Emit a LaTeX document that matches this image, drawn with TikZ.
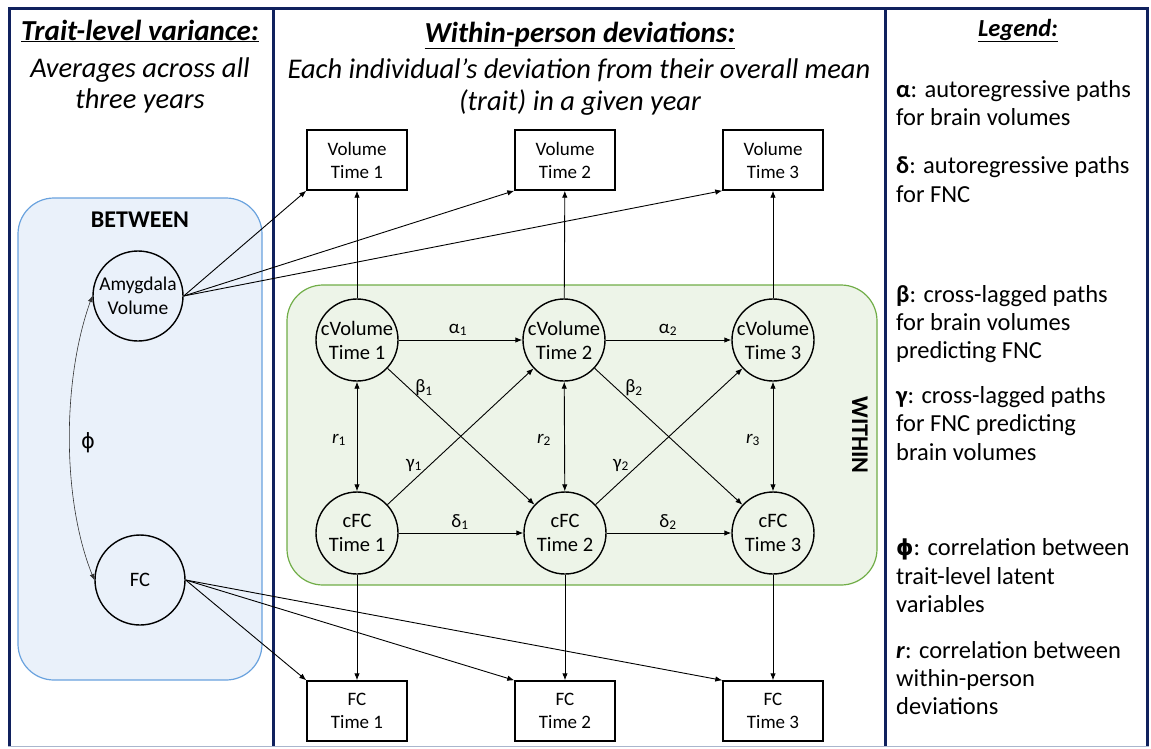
\documentclass[tikz,border=0pt]{standalone}
\usepackage{fontspec}
\setmainfont{Carlito}
\newfontfamily\phifont{DejaVu Sans}
\usetikzlibrary{arrows.meta}
\definecolor{navy}{RGB}{16,33,94}
\definecolor{bframe}{RGB}{170,182,205}
\definecolor{bluebd}{RGB}{105,162,222}
\definecolor{bluefill}{RGB}{234,241,250}
\definecolor{greenbd}{RGB}{112,173,71}
\definecolor{greenfill}{RGB}{237,244,232}
\begin{document}
\begin{tikzpicture}[x=1pt,y=-1pt,
  obs/.style={draw, line width=1.4pt, fill=white, minimum width=100pt, minimum height=60pt, align=center, inner sep=0pt, font=\fontsize{19}{23}\selectfont},
  lat/.style={circle, draw, line width=1.4pt, minimum size=82pt, align=center, inner sep=0pt, font=\fontsize{20.5}{24}\selectfont},
  conn/.style={-{Latex[length=7pt,width=5.5pt]}, line width=0.9pt},
  dbl/.style={{Latex[length=7pt,width=5.5pt]}-{Latex[length=7pt,width=5.5pt]}, line width=0.9pt},
  lbl/.style={font=\fontsize{19}{21}\selectfont, inner sep=1pt},
  ttl/.style={anchor=base, inner sep=0pt, font=\fontsize{29}{32}\selectfont\bfseries\itshape},
  sub/.style={anchor=base, inner sep=0pt, font=\fontsize{28.5}{32}\selectfont\itshape},
  leg/.style={anchor=base west, inner sep=0pt, font=\fontsize{24.5}{28}\selectfont}]
\useasboundingbox (0,0) rectangle (1151,748);
% frame
\draw[navy, line width=3pt] (9.5,746) -- (9.5,8.5) -- (1147.5,8.5) -- (1147.5,746);
\draw[navy, line width=3pt] (273.5,8.5) -- (273.5,746);
\draw[navy, line width=3pt] (885,8.5) -- (885,746);
\draw[bframe, line width=1.5pt] (8,746.5) -- (1149,746.5);
% panels
\draw[bluebd, fill=bluefill, line width=1.2pt, rounded corners=36pt] (18,198) rectangle (262,680);
\draw[greenbd, fill=greenfill, line width=1.2pt, rounded corners=36pt] (287,285) rectangle (877,585);
\node[font=\fontsize{24}{26}\selectfont\bfseries] (between) at (140,220) {BETWEEN};
\node[font=\fontsize{24}{26}\selectfont\bfseries, rotate=-90] (within) at (860,435) {WITHIN};
% titles
\node[ttl] (t1) at (140,40) {\underline{Trait-level variance:}};
\node[sub] (t1a) at (140,77) {Averages across all};
\node[sub] (t1b) at (140,108) {three years};
\node[ttl] (t2) at (580,42) {\underline{Within-person deviations:}};
\node[sub] (t2a) at (579,78) {Each individual’s deviation from their overall mean};
\node[sub] (t2b) at (580,110) {(trait) in a given year};
\node[anchor=base, inner sep=0pt, font=\fontsize{24.5}{28}\selectfont\bfseries\itshape] (t3) at (1018,36) {\underline{Legend:}};
% legend
\node[leg] (la1) at (896,97) {\textbf{α}: autoregressive paths};
\node[leg] (la2) at (896,125) {for brain volumes};
\node[leg] (ld1) at (896,173) {\textbf{δ}: autoregressive paths};
\node[leg] (ld2) at (896,202) {for FNC};
\node[leg] (lb1) at (896,302) {\textbf{β}: cross-lagged paths};
\node[leg] (lb2) at (896,330) {for brain volumes};
\node[leg] (lb3) at (896,358) {predicting FNC};
\node[leg] (lg1) at (896,403) {\textbf{γ}: cross-lagged paths};
\node[leg] (lg2) at (896,431) {for FNC predicting};
\node[leg] (lg3) at (896,460) {brain volumes};
\node[leg] (lp1) at (896,555) {{\phifont\bfseries\fontsize{22}{28}\selectfont ϕ}: correlation between};
\node[leg] (lp2) at (896,584) {trait-level latent};
\node[leg] (lp3) at (896,612) {variables};
\node[leg] (lr1) at (896,658) {\textbf{\textit{r}}: correlation between};
\node[leg] (lr2) at (896,686) {within-person};
\node[leg] (lr3) at (896,714) {deviations};
% observed boxes
\node[obs] (v1) at (357,160) {Volume\\Time 1};
\node[obs] (v2) at (565,160) {Volume\\Time 2};
\node[obs] (v3) at (773,160) {Volume\\Time 3};
\node[obs] (f1) at (357,711) {FC\\Time 1};
\node[obs] (f2) at (565,711) {FC\\Time 2};
\node[obs] (f3) at (773,711) {FC\\Time 3};
% latent circles
\node[lat] (cv1) at (357,340) {cVolume\\Time 1};
\node[lat] (cv2) at (564,340) {cVolume\\Time 2};
\node[lat] (cv3) at (773,340) {cVolume\\Time 3};
\node[lat] (cf1) at (357,533) {cFC\\Time 1};
\node[lat] (cf2) at (565,533) {cFC\\Time 2};
\node[lat] (cf3) at (773,533) {cFC\\Time 3};
\node[lat, minimum size=90pt, font=\fontsize{19.5}{24}\selectfont] (amy) at (138,296) {Amygdala\\Volume};
\node[lat, minimum size=90pt] (fc) at (140,580) {FC};
% between loadings
\draw[conn] (amy.east) -- (v1.south west);
\draw[conn] (amy.east) -- (v2.south west);
\draw[conn] (amy.east) -- (v3.south west);
\draw[conn] (fc.east) -- (f1.north west);
\draw[conn] (fc.east) -- (f2.north west);
\draw[conn] (fc.east) -- (f3.north west);
\draw[{Latex[length=6pt,width=5pt]}-{Latex[length=6pt,width=5pt]}, line width=0.6pt, black!80] (amy.180) .. controls (62,380) and (62,500) .. (fc.180);
\node[font=\phifont\fontsize{21}{24}\selectfont] (phi) at (88,443) {ϕ};
% within loadings
\draw[conn] (cv1) -- (v1);
\draw[conn] (cv2) -- (v2);
\draw[conn] (cv3) -- (v3);
\draw[conn] (cf1) -- (f1);
\draw[conn] (cf2) -- (f2);
\draw[conn] (cf3) -- (f3);
% correlations
\draw[dbl] (cv1) -- (cf1);
\draw[dbl] (cv2) -- (cf2);
\draw[dbl] (cv3) -- (cf3);
% autoregressive
\draw[conn] (cv1) -- (cv2);
\draw[conn] (cv2) -- (cv3);
\draw[conn] (cf1) -- (cf2);
\draw[conn] (cf2) -- (cf3);
% cross-lagged
\draw[conn] (cv1) -- (cf2);
\draw[conn] (cv2) -- (cf3);
\draw[conn] (cf1) -- (cv2);
\draw[conn] (cf2) -- (cv3);
% labels
\node[lbl] (a1) at (458,330) {α\textsubscript{1}};
\node[lbl] (a2) at (668,330) {α\textsubscript{2}};
\node[lbl] (d1) at (460,522) {δ\textsubscript{1}};
\node[lbl] (d2) at (668,522) {δ\textsubscript{2}};
\node[lbl] (b1) at (424,388) {β\textsubscript{1}};
\node[lbl] (b2) at (634,388) {β\textsubscript{2}};
\node[lbl] (g1) at (414,465) {γ\textsubscript{1}};
\node[lbl] (g2) at (621,465) {γ\textsubscript{2}};
\node[lbl] (r1) at (339,440) {\textit{r}\textsubscript{1}};
\node[lbl] (r2) at (544,440) {\textit{r}\textsubscript{2}};
\node[lbl] (r3) at (753,440) {\textit{r}\textsubscript{3}};
\end{tikzpicture}
\end{document}
